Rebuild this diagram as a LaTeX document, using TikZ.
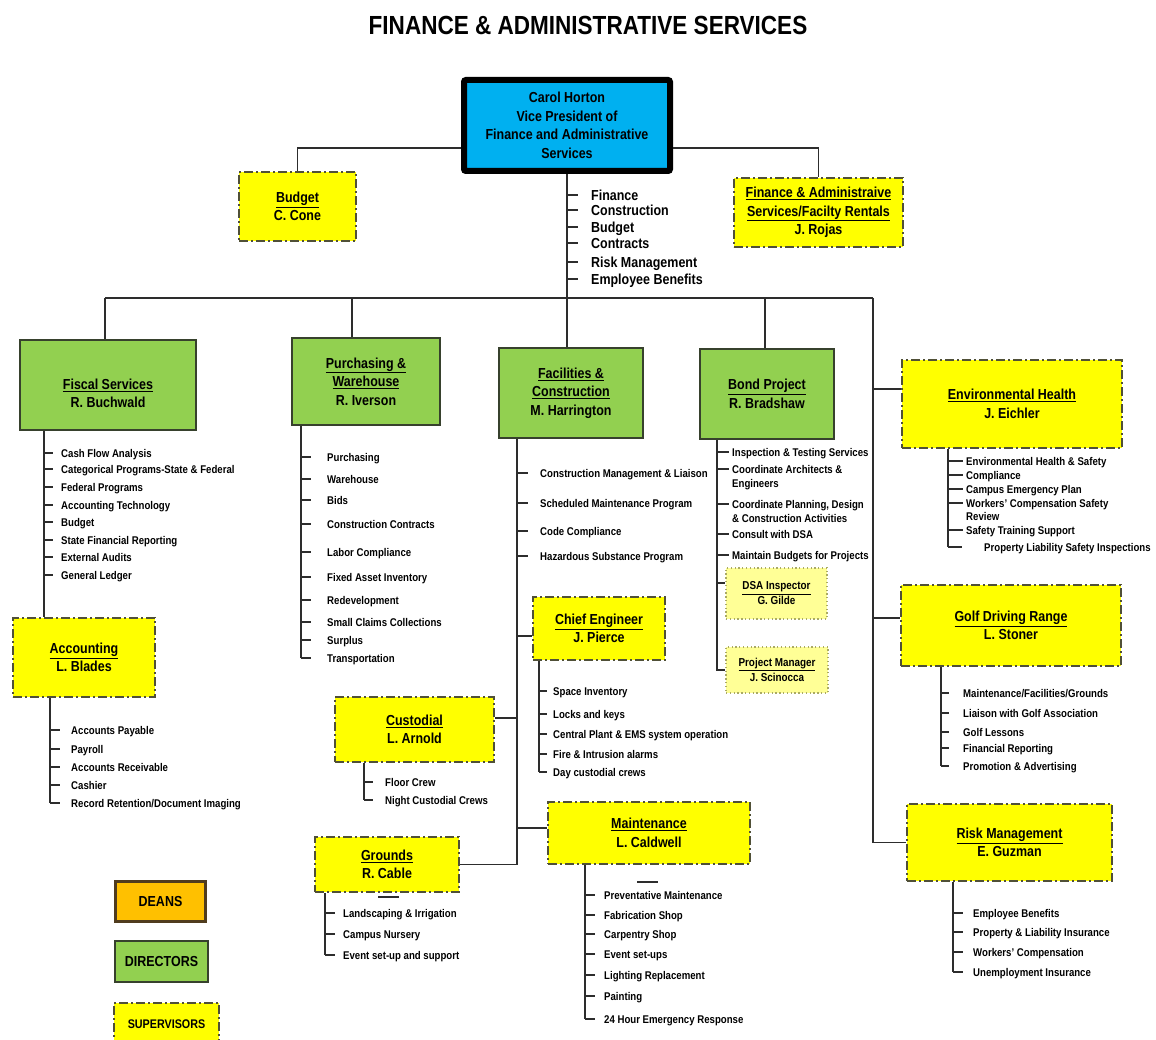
\documentclass[tikz,border=0pt]{standalone}
\usepackage{fontspec}
\setmainfont{Liberation Sans}[FakeStretch=0.86]
\definecolor{vpblue}{RGB}{0,176,240}
\definecolor{dirgreen}{RGB}{146,208,80}
\definecolor{dirborder}{RGB}{55,65,45}
\definecolor{supyellow}{RGB}{255,255,0}
\definecolor{supborder}{RGB}{80,80,55}
\definecolor{dsayellow}{RGB}{255,255,150}
\definecolor{dsaborder}{RGB}{170,170,100}
\definecolor{deanorange}{RGB}{255,192,0}
\definecolor{deanborder}{RGB}{80,60,30}
\definecolor{linegray}{RGB}{45,45,45}
\tikzset{
  box/.style={align=center, inner sep=0pt, text=black, font=\bfseries\fontsize{14.5}{18.5}\selectfont},
  vpbox/.style={box, fill=vpblue, draw=black, line width=6pt, rounded corners=2pt},
  dirbox/.style={box, fill=dirgreen, draw=dirborder, line width=1.4pt},
  supbox/.style={box, fill=supyellow, draw=supborder, line width=1.8pt, dash pattern=on 9pt off 3pt on 2pt off 3pt},
  dsabox/.style={box, fill=dsayellow, draw=dsaborder, line width=1.3pt, dash pattern=on 1.3pt off 2.5pt, font=\bfseries\fontsize{11.5}{15}\selectfont},
  deanbox/.style={box, fill=deanorange, draw=deanborder, line width=3pt},
  conn/.style={draw=linegray, line width=1.4pt},
  itemtext/.style={anchor=west, inner sep=0pt, text height=8pt, text depth=0pt, text=black, font=\bfseries\fontsize{11.2}{13}\selectfont},
  topitem/.style={itemtext, text height=10.5pt, font=\bfseries\fontsize{14.5}{17}\selectfont},
}
\newcommand\itemlist[5]{%
  \foreach \yy/\tx/\tk [count=\i] in {#5}{%
    \node[itemtext] (#4\i) at (#3,\yy) {\tx};
    \ifnum\tk=1 \draw[conn] (#1,\yy) -- (#2,\yy);\fi
  }}
\begin{document}
\begin{tikzpicture}[x=1pt,y=-1pt]
\useasboundingbox (0,0) rectangle (1156,1040);
\fill[white] (0,0) rectangle (1156,1040);
\node[font=\bfseries\fontsize{26.2}{30}\selectfont] (title) at (588,25) {FINANCE \& ADMINISTRATIVE SERVICES};

% ---------- boxes ----------
\node[vpbox, minimum width=206pt, minimum height=91pt] (vp) at (567,125.5) {Carol Horton\\Vice President of\\Finance and Administrative\\Services};
\node[supbox, minimum width=117pt, minimum height=69pt] (budget) at (297.5,206.5) {\underline{Budget}\\C. Cone};
\node[supbox, minimum width=169pt, minimum height=69pt] (rojas) at (818.5,212.5) {\underline{Finance \& Administraive}\\\underline{Services/Facilty Rentals}\\J. Rojas};
\node[dirbox, minimum width=176pt, minimum height=90pt] (fis) at (108,385) {\rule{0pt}{27pt}\underline{Fiscal Services}\\R. Buchwald};
\node[dirbox, minimum width=148pt, minimum height=87pt] (pur) at (366,381.5) {\underline{Purchasing \&}\\\underline{Warehouse}\\R. Iverson};
\node[dirbox, minimum width=144pt, minimum height=90pt] (fac) at (571,393) {\underline{Facilities \&}\\\underline{Construction}\\M. Harrington};
\node[dirbox, minimum width=134pt, minimum height=90pt] (bond) at (767,394) {\underline{Bond Project}\\R. Bradshaw};
\node[supbox, minimum width=220pt, minimum height=88pt] (env) at (1012,404) {\underline{Environmental Health}\\J. Eichler};
\node[supbox, minimum width=220pt, minimum height=81pt] (golf) at (1011,625.5) {\underline{Golf Driving Range}\\L. Stoner};
\node[supbox, minimum width=205pt, minimum height=77pt] (risk) at (1009.5,842.5) {\underline{Risk Management}\\E. Guzman};
\node[supbox, minimum width=142pt, minimum height=79pt] (acc) at (84,657.5) {\underline{Accounting}\\L. Blades};
\node[supbox, minimum width=132pt, minimum height=63pt] (chief) at (599,628.5) {\underline{Chief Engineer}\\J. Pierce};
\node[supbox, minimum width=159pt, minimum height=65pt] (cust) at (414.5,729.5) {\underline{Custodial}\\L. Arnold};
\node[supbox, minimum width=202pt, minimum height=62pt] (maint) at (649,833) {\underline{Maintenance}\\L. Caldwell};
\node[supbox, minimum width=144pt, minimum height=55pt] (grnd) at (387,864.5) {\underline{Grounds}\\R. Cable};
\node[dsabox, minimum width=101pt, minimum height=51pt] (dsa) at (776.5,593.5) {\underline{DSA Inspector}\\G. Gilde};
\node[dsabox, minimum width=102pt, minimum height=46pt] (pm) at (777,670) {\underline{Project Manager}\\J. Scinocca};
% legend
\node[deanbox, minimum width=90pt, minimum height=40pt] (deans) at (160.5,901.5) {DEANS};
\node[dirbox, minimum width=93pt, minimum height=41pt] (dirs) at (161.5,961.5) {DIRECTORS};
\node[supbox, minimum width=105pt, minimum height=42pt, font=\bfseries\fontsize{12.5}{15}\selectfont] (sups) at (166.5,1024) {SUPERVISORS};

% ---------- top connectors ----------
\coordinate (hVP) at (0,148);
\draw[conn] (vp.west |- hVP) -| (budget.north);
\draw[conn] (vp.east |- hVP) -| (rojas.north);
\coordinate (tF) at (105,298);
\coordinate (tP) at (352,298);
\coordinate (tC) at (567,298);
\coordinate (tB) at (765,298);
\coordinate (tR) at (873,298);
\draw[conn] (tF) -- (tR);
\draw[conn] (vp.south) -- (tC);
\draw[conn] (tF) -- (tF |- fis.north);
\draw[conn] (tP) -- (tP |- pur.north);
\draw[conn] (tC) -- (tC |- fac.north);
\draw[conn] (tB) -- (tB |- bond.north);
\draw[conn] (tR) |- (risk.west);
\coordinate (eW) at ([yshift=15pt]env.west);
\draw[conn] (eW -| tR) -- (eW);
\coordinate (gW) at ([yshift=7.5pt]golf.west);
\draw[conn] (gW -| tR) -- (gW);

\foreach \yy/\tx [count=\i] in {195/Finance,210/Construction,227/Budget,243/Contracts,262/Risk Management,279/Employee Benefits}{
  \node[topitem] (top\i) at (591,\yy) {\tx};
  \draw[conn] (567,\yy) -- (578,\yy);
}

% ---------- Fiscal ----------
\coordinate (xFis) at (44,0);
\draw[conn] (fis.south -| xFis) -- (acc.north -| xFis);
\itemlist{44}{53}{61}{fi}{453/Cash Flow Analysis/1,469/Categorical Programs-State \& Federal/1,487/Federal Programs/1,505/Accounting Technology/1,522/Budget/1,540/State Financial Reporting/1,557/External Audits/1,575/General Ledger/1}
\coordinate (xAcc) at (50,803);
\draw[conn] (acc.south -| xAcc) -- (xAcc);
\itemlist{50}{60}{71}{ac}{730/Accounts Payable/1,749/Payroll/1,767/Accounts Receivable/1,785/Cashier/1,803/{Record Retention/Document Imaging}/1}

% ---------- Purchasing ----------
\coordinate (xPur) at (301,658);
\draw[conn] (pur.south -| xPur) -- (xPur);
\itemlist{301}{311}{327}{pu}{457/Purchasing/1,479/Warehouse/1,500/Bids/1,524/Construction Contracts/1,552/Labor Compliance/1,577/Fixed Asset Inventory/1,600/Redevelopment/1,622/Small Claims Collections/1,640/Surplus/1,658/Transportation/1}

% ---------- Facilities ----------
\coordinate (xFac) at (517,0);
\draw[conn] (fac.south -| xFac) -- (xFac |- grnd.east);
\draw[conn] (grnd.east) -- (grnd.east -| xFac);
\coordinate (mW) at ([yshift=5pt]maint.west);
\draw[conn] (mW) -- (mW -| xFac);
\coordinate (cE) at ([yshift=11.5pt]cust.east);
\draw[conn] (cE) -- (cE -| xFac);
\coordinate (chW) at ([yshift=-7.5pt]chief.west);
\draw[conn] (chW) -- (chW -| xFac);
\itemlist{517}{528}{540}{fa}{473/Construction Management \& Liaison/1,503/Scheduled Maintenance Program/1,531/Code Compliance/1,556/Hazardous Substance Program/1}

\coordinate (xChief) at (539,772);
\draw[conn] (chief.south -| xChief) -- (xChief);
\itemlist{539}{547}{553}{ch}{691/Space Inventory/1,714/Locks and keys/1,734/Central Plant \& EMS system operation/1,754/Fire \& Intrusion alarms/1,772/Day custodial crews/1}

\coordinate (xCust) at (364,800);
\draw[conn] (cust.south -| xCust) -- (xCust);
\itemlist{364}{373}{385}{cu}{782/Floor Crew/1,800/Night Custodial Crews/1}

\coordinate (xMnt) at (585,1019);
\draw[conn] (maint.south -| xMnt) -- (xMnt);
\itemlist{585}{595}{604}{mn}{895/Preventative Maintenance/1,915/Fabrication Shop/1,934/Carpentry Shop/1,954/Event set-ups/1,975/Lighting Replacement/1,996/Painting/1,1019/24 Hour Emergency Response/1}
\draw[conn] (637,882) -- (658,882);

\coordinate (xGr) at (325,955);
\draw[conn] (grnd.south -| xGr) -- (xGr);
\itemlist{325}{335}{343}{gr}{913/Landscaping \& Irrigation/1,934/Campus Nursery/1,955/Event set-up and support/1}
\draw[conn] (378,897) -- (399,897);

% ---------- Bond ----------
\coordinate (xBond) at (717,0);
\draw[conn] (bond.south -| xBond) -- (xBond |- pm.west) -- (pm.west);
\coordinate (dW) at ([yshift=10.5pt]dsa.west);
\draw[conn] (dW -| xBond) -- (dW);
\itemlist{717}{729}{732}{bo}{452/Inspection \& Testing Services/1,469/Coordinate Architects \&/1,483/Engineers/0,504/{Coordinate Planning, Design}/1,518/\& Construction Activities/0,534/Consult with DSA/1,555/Maintain Budgets for Projects/1}

% ---------- Environmental ----------
\coordinate (xEnv) at (948,547);
\draw[conn] (env.south -| xEnv) -- (xEnv);
\itemlist{948}{963}{966}{en}{461/Environmental Health \& Safety/1,475/Compliance/1,489/Campus Emergency Plan/1,503/Workers' Compensation Safety/1,516/Review/0,530/Safety Training Support/1}
\node[itemtext] (en7) at (984,547) {Property Liability Safety Inspections};
\draw[conn] (xEnv) -- (962,547);

% ---------- Golf ----------
\coordinate (xGolf) at (941,766);
\draw[conn] (golf.south -| xGolf) -- (xGolf);
\itemlist{941}{949}{963}{go}{693/{Maintenance/Facilities/Grounds}/1,713/Liaison with Golf Association/1,732/Golf Lessons/1,748/Financial Reporting/1,766/Promotion \& Advertising/1}

% ---------- Risk ----------
\coordinate (xRisk) at (953,972);
\draw[conn] (risk.south -| xRisk) -- (xRisk);
\itemlist{953}{963}{973}{ri}{913/Employee Benefits/1,932/Property \& Liability Insurance/1,952/Workers' Compensation/1,972/Unemployment Insurance/1}
\end{tikzpicture}
\end{document}
